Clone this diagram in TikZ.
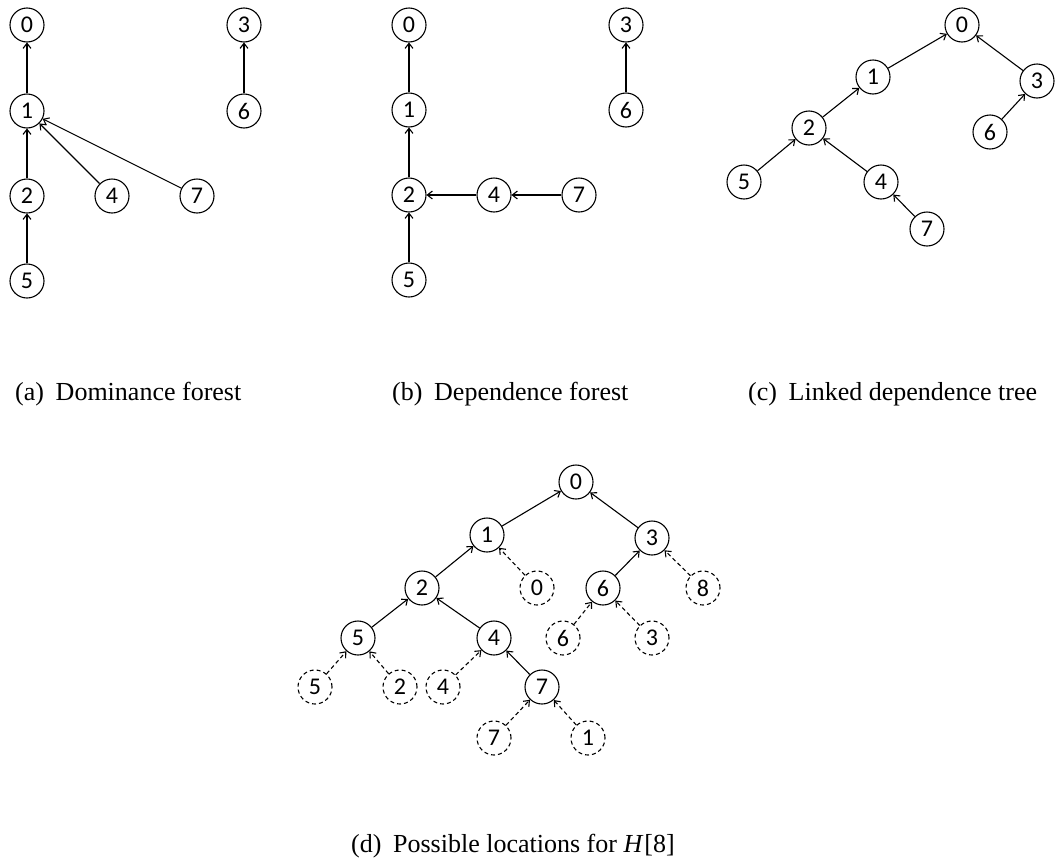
\documentclass[tikz,border=0pt]{standalone}
\usepackage{fontspec}
\setmainfont{Liberation Serif}
\newfontfamily\nodefont{Carlito}
\usetikzlibrary{arrows.meta}
\tikzset{
  vtx/.style={circle,draw,line width=1.1pt,minimum size=34pt,inner sep=0pt,font=\nodefont\fontsize{24}{24}\selectfont},
  dvtx/.style={vtx,dash pattern=on 4pt off 3pt},
  edge/.style={line width=1.1pt,-{Straight Barb[length=5pt,width=8pt,line width=1.1pt]}},
  dedge/.style={edge,dash pattern=on 4pt off 3pt},
  captext/.style={font=\fontsize{26}{26}\selectfont,inner sep=0pt}
}
\begin{document}
\begin{tikzpicture}[x=1pt,y=-1pt]
\useasboundingbox (0,0) rectangle (1055,865);
% (a)
\node[vtx] (a0) at (27,25) {0};
\node[vtx] (a1) at (27,111) {1};
\node[vtx] (a2) at (27,196) {2};
\node[vtx] (a4) at (112,196) {4};
\node[vtx] (a7) at (197,196) {7};
\node[vtx] (a5) at (27,281) {5};
\node[vtx] (a3) at (244,25) {3};
\node[vtx] (a6) at (244,111) {6};
\draw[edge] (a1) -- (a0);
\draw[edge] (a2) -- (a1);
\draw[edge] (a4) -- (a1);
\draw[edge] (a7) -- (a1);
\draw[edge] (a5) -- (a2);
\draw[edge] (a6) -- (a3);
% (b)
\node[vtx] (b0) at (409,25) {0};
\node[vtx] (b1) at (409,110) {1};
\node[vtx] (b2) at (409,195) {2};
\node[vtx] (b4) at (494,195) {4};
\node[vtx] (b7) at (579,195) {7};
\node[vtx] (b5) at (409,280) {5};
\node[vtx] (b3) at (626,25) {3};
\node[vtx] (b6) at (626,110) {6};
\draw[edge] (b1) -- (b0);
\draw[edge] (b2) -- (b1);
\draw[edge] (b4) -- (b2);
\draw[edge] (b7) -- (b4);
\draw[edge] (b5) -- (b2);
\draw[edge] (b6) -- (b3);
% (c)
\node[vtx] (c0) at (962,25) {0};
\node[vtx] (c1) at (873,77) {1};
\node[vtx] (c3) at (1037,81) {3};
\node[vtx] (c2) at (809,128) {2};
\node[vtx] (c6) at (990,132) {6};
\node[vtx] (c5) at (744,182) {5};
\node[vtx] (c4) at (881,182) {4};
\node[vtx] (c7) at (927,229) {7};
\draw[edge] (c1) -- (c0);
\draw[edge] (c3) -- (c0);
\draw[edge] (c2) -- (c1);
\draw[edge] (c6) -- (c3);
\draw[edge] (c5) -- (c2);
\draw[edge] (c4) -- (c2);
\draw[edge] (c7) -- (c4);
% captions
\node[captext,anchor=west] (capa) at (15,394) {(a)\hspace{0.45em}Dominance forest};
\node[captext,anchor=west] (capb) at (392,394) {(b)\hspace{0.45em}Dependence forest};
\node[captext,anchor=west] (capc) at (748,394) {(c)\hspace{0.45em}Linked dependence tree};
% (d)
\node[vtx] (d0) at (576,482) {0};
\node[vtx] (d1) at (487,535) {1};
\node[vtx] (d3) at (652,538) {3};
\node[vtx] (d2) at (422,588) {2};
\node[dvtx] (dd0) at (537,588) {0};
\node[vtx] (d6) at (603,588) {6};
\node[dvtx] (dd8) at (703,588) {8};
\node[vtx] (d5) at (358,638) {5};
\node[vtx] (d4) at (494,638) {4};
\node[dvtx] (dd6) at (563,638) {6};
\node[dvtx] (dd3) at (652,638) {3};
\node[dvtx] (dd5) at (315,687) {5};
\node[dvtx] (dd2) at (400,687) {2};
\node[dvtx] (dd4) at (443,687) {4};
\node[vtx] (d7) at (542,687) {7};
\node[dvtx] (dd7) at (494,738) {7};
\node[dvtx] (dd1) at (588,738) {1};
\draw[edge] (d1) -- (d0);
\draw[edge] (d3) -- (d0);
\draw[edge] (d2) -- (d1);
\draw[edge] (d6) -- (d3);
\draw[edge] (d5) -- (d2);
\draw[edge] (d4) -- (d2);
\draw[edge] (d7) -- (d4);
\draw[dedge] (dd0) -- (d1);
\draw[dedge] (dd8) -- (d3);
\draw[dedge] (dd6) -- (d6);
\draw[dedge] (dd3) -- (d6);
\draw[dedge] (dd5) -- (d5);
\draw[dedge] (dd2) -- (d5);
\draw[dedge] (dd4) -- (d4);
\draw[dedge] (dd7) -- (d7);
\draw[dedge] (dd1) -- (d7);
\node[captext,anchor=east] (capd) at (675,846) {(d)\hspace{0.45em}Possible locations for \textit{H}\kern1pt[8]};
\end{tikzpicture}
\end{document}
